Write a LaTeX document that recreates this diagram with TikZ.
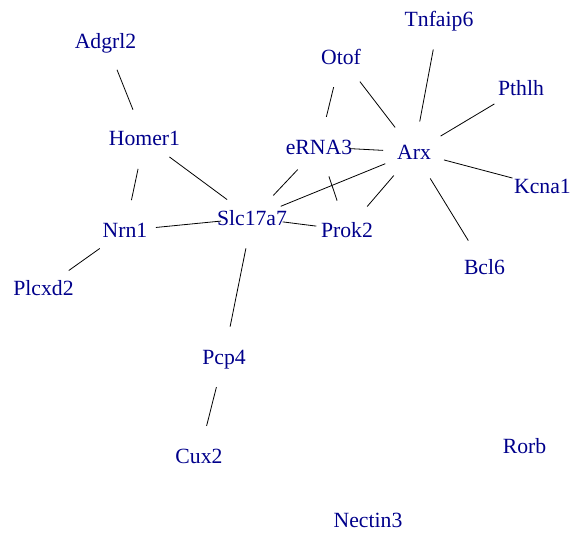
\documentclass[tikz,border=0pt]{standalone}
\usepackage{fontspec}
\setmainfont{Liberation Serif}
\definecolor{lbl}{RGB}{0,0,139}
\begin{document}
\begin{tikzpicture}[x=1pt,y=-1pt,
  gene/.style={inner sep=0pt,outer sep=0pt,text height=14.4pt,text depth=0pt,anchor=center,
    text=lbl,font=\fontsize{21.7}{26}\selectfont},
  link/.style={draw=black,line width=0.8pt,shorten <=31pt,shorten >=31pt}]
\useasboundingbox (0,0) rectangle (572,536);
\node[gene] (Adgrl2) at (105.5,41) {Adgrl2};
\node[gene] (Tnfaip6) at (439,19) {Tnfaip6};
\node[gene] (Otof) at (341,57) {Otof};
\node[gene] (Pthlh) at (521,88) {Pthlh};
\node[gene] (Homer1) at (144.5,138.5) {Homer1};
\node[gene] (eRNA3) at (319,147) {eRNA3};
\node[gene] (Arx) at (414,152) {Arx};
\node[gene] (Kcna1) at (542.5,186) {Kcna1};
\node[gene] (Nrn1) at (125,230.5) {Nrn1};
\node[gene] (Slc17a7) at (252,218) {Slc17a7};
\node[gene] (Prok2) at (347,230) {Prok2};
\node[gene] (Bcl6) at (484.5,267) {Bcl6};
\node[gene] (Plcxd2) at (43.5,288.5) {Plcxd2};
\node[gene] (Pcp4) at (224,357) {Pcp4};
\node[gene] (Cux2) at (199,456) {Cux2};
\node[gene] (Rorb) at (524.5,446) {Rorb};
\node[gene] (Nectin3) at (368,520) {Nectin3};
\foreach \a/\b in {Adgrl2/Homer1,Homer1/Nrn1,Homer1/Slc17a7,Nrn1/Slc17a7,Nrn1/Plcxd2,
  Slc17a7/eRNA3,Slc17a7/Arx,Slc17a7/Prok2,Slc17a7/Pcp4,eRNA3/Otof,eRNA3/Arx,eRNA3/Prok2,
  Arx/Prok2,Arx/Otof,Arx/Tnfaip6,Arx/Pthlh,Arx/Kcna1,Arx/Bcl6,Pcp4/Cux2}
  \draw[link] (\a.center) -- (\b.center);
\end{tikzpicture}
\end{document}
